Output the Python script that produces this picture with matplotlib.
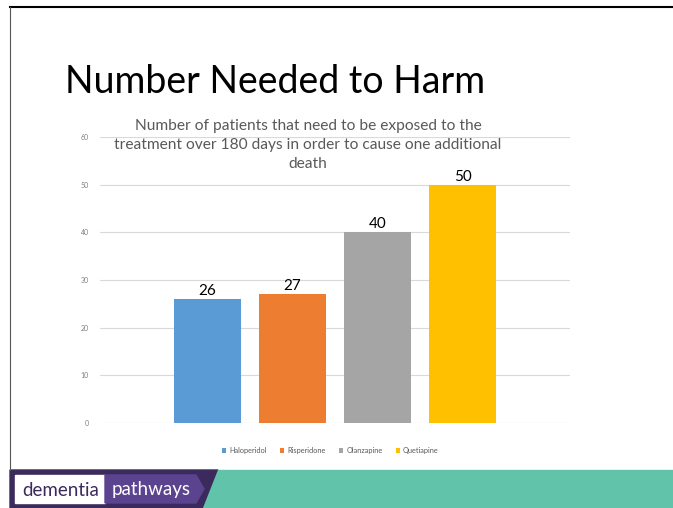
import matplotlib.pyplot as plt
from matplotlib.patches import Rectangle, Polygon

plt.rcParams['font.family'] = ['Lato', 'DejaVu Sans']

drugs = ['Haloperidol', 'Risperidone', 'Olanzapine', 'Quetiapine']
legend_labels = ['Haloperidol', 'Risperidone', 'Olanzapine', 'Quetiapine']
nnh = [26, 27, 40, 50]
colors = ['#5b9bd5', '#ed7d31', '#a5a5a5', '#ffc000']
yticks = [0, 10, 20, 30, 40, 50, 60]

W, H = 673, 508
fig = plt.figure(figsize=(W / 100, H / 100), dpi=100)
fig.patch.set_facecolor('white')

# background layer in pixel coords (slide frame + footer)
bg = fig.add_axes([0, 0, 1, 1])
bg.set_xlim(0, W)
bg.set_ylim(H, 0)
bg.axis('off')
bg.plot([10, W], [7, 7], color='black', lw=1.5)
bg.plot([10, 10], [7, 470], color='#555555', lw=0.8)
bg.add_patch(Polygon([[10, 470], [218, 470], [203, H], [10, H]], color='#3b2a5c'))
bg.add_patch(Polygon([[218, 470], [W, 470], [W, H], [203, H]], color='#62c3ab'))
bg.add_patch(Rectangle((15, 475), 90, 28, color='white'))
bg.add_patch(Polygon([[105, 475], [196, 475], [204, 489], [196, 503], [105, 503]], color='#5c4390'))
bg.text(61, 490, 'dementia', ha='center', va='center', fontsize=13.5, color='#3b2a5c')
bg.text(151, 490, 'pathways', ha='center', va='center', fontsize=13.5, color='white')
bg.text(65, 82, 'Number Needed to Harm', ha='left', va='center', fontsize=27, color='black')

ax = fig.add_axes([100 / W, (H - 423) / H, 470 / W, (423 - 137) / H])
ax.patch.set_visible(False)
x = range(len(drugs))
bars = ax.bar(x, nnh, width=0.79, color=colors, label=legend_labels, zorder=3)
for b, v in zip(bars, nnh):
    ax.text(b.get_x() + b.get_width() / 2, v + 0.2, str(v), ha='center', va='bottom',
            fontsize=11, color='black')
ax.set_xlim(-1.26, 4.26)
ax.set_ylim(0, 60)
ax.set_yticks(yticks)
ax.set_xticks([])
ax.tick_params(axis='y', length=0, labelsize=5, labelcolor='#7f7f7f', pad=8)
ax.grid(axis='y', color='#d9d9d9', lw=0.8, zorder=0)
for s in ax.spines.values():
    s.set_visible(False)
ax.legend(loc='upper center', bbox_to_anchor=(0.49, -0.06), ncol=4, frameon=False,
          fontsize=5.3, labelcolor='#595959', handlelength=0.6, handleheight=0.6,
          columnspacing=1.8, handletextpad=0.4)

# chart title on top of the plot area
fig.text(308, 145, 'Number of patients that need to be exposed to the\n'
         'treatment over 180 days in order to cause one additional\ndeath',
         transform=bg.transData, ha='center', va='center', fontsize=11.2,
         color='#595959', linespacing=1.42, zorder=5)

fig.savefig('out.png', dpi=100)
